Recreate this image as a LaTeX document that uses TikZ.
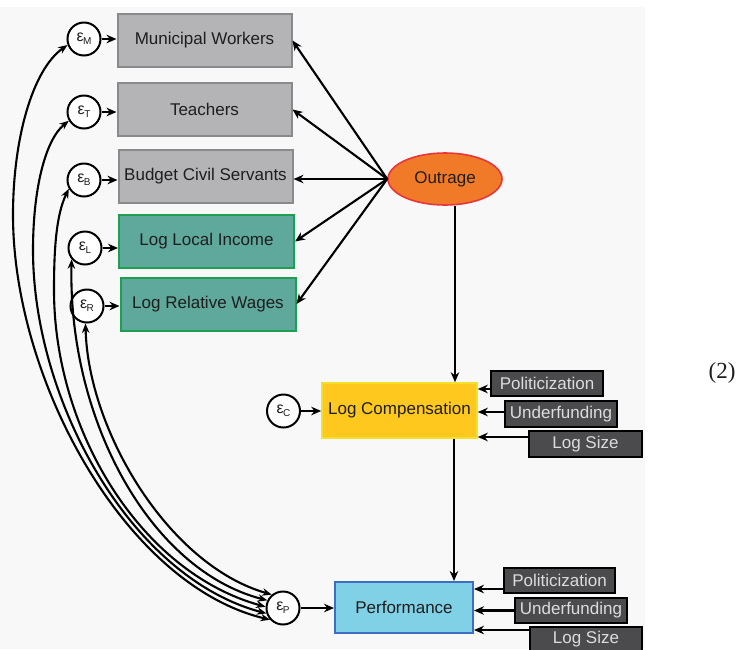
\documentclass[tikz,border=0pt]{standalone}
\usepackage{fontspec}
\setmainfont{Liberation Sans}
\newfontfamily\eqfont{Liberation Serif}
\usetikzlibrary{arrows.meta,shapes.geometric}
\definecolor{panelbg}{HTML}{F8F8F8}
\definecolor{boxgray}{HTML}{B4B4B7}
\definecolor{boxgrayline}{HTML}{8A8A8C}
\definecolor{tealfill}{HTML}{5FA89C}
\definecolor{tealline}{HTML}{1E9E50}
\definecolor{outfill}{HTML}{F07A28}
\definecolor{outline}{HTML}{E8363A}
\definecolor{compfill}{HTML}{FFC81E}
\definecolor{compline}{HTML}{F3E02A}
\definecolor{perffill}{HTML}{80D0E6}
\definecolor{perfline}{HTML}{3D6EC4}
\definecolor{darkfill}{HTML}{4B4B4D}
\definecolor{darktext}{HTML}{DCDCDC}
\definecolor{txt}{HTML}{1E1E1E}
\newcommand\epsl[1]{{\fontsize{16}{16}\selectfont ε}\kern-0.5pt\raisebox{-3pt}{\fontsize{10}{10}\selectfont #1}}
\begin{document}
\begin{tikzpicture}[x=1pt,y=-1pt,
  box/.style={draw, line width=2pt, minimum height=53pt, inner sep=0pt,
    font=\fontsize{17}{17}\selectfont, text=txt},
  graybox/.style={box, fill=boxgray, draw=boxgrayline, minimum width=174pt},
  tealbox/.style={box, fill=tealfill, draw=tealline, minimum width=175pt},
  errc/.style={circle, draw, line width=2pt, fill=white, minimum size=33pt, inner sep=0pt, text=txt},
  darkbox/.style={draw=black, line width=2pt, fill=darkfill, text=darktext,
    minimum width=112pt, minimum height=25pt, inner sep=0pt, font=\fontsize{17}{17}\selectfont},
  arr/.style={line width=2.1pt, -{Stealth[length=10pt,width=8.5pt]}},
  biarr/.style={line width=2.1pt, {Stealth[length=9.5pt,width=7.5pt]}-{Stealth[length=9.5pt,width=7.5pt]}}
]
\useasboundingbox (0,0) rectangle (738,649);
\fill[white] (0,0) rectangle (738,649);
\fill[panelbg] (0,7) rectangle (645,649);

% indicator boxes
\node[graybox] (mw) at (204.5,40.5) {Municipal Workers};
\node[graybox] (te) at (204.5,109.5) {Teachers};
\node[graybox] (bc) at (205.5,176) {Budget Civil Servants};
\node[tealbox] (li) at (206.5,241.5) {Log Local Income};
\node[tealbox] (rw) at (208,304) {Log Relative Wages};

% error terms
\node[errc] (em) at (84,39) {\epsl{M}};
\node[errc] (et) at (84,112) {\epsl{T}};
\node[errc] (eb) at (84,180) {\epsl{B}};
\node[errc] (el) at (85,248) {\epsl{L}};
\node[errc] (er) at (87,306) {\epsl{R}};

\draw[arr] (em.east) -- (em.east -| mw.west);
\draw[arr] (et.east) -- (et.east -| te.west);
\draw[arr] (eb.east) -- (eb.east -| bc.west);
\draw[arr] (el.east) -- (el.east -| li.west);
\draw[arr] (er.east) -- (er.east -| rw.west);

% outrage
\node[ellipse, draw=outline, fill=outfill, line width=1.6pt, minimum width=114pt,
  minimum height=52pt, inner sep=0pt, font=\fontsize{17}{17}\selectfont, text=txt]
  (out) at (445,179) {Outrage};
\draw[arr] (out.west) -- (mw.east);
\draw[arr] (out.west) -- (te.east);
\draw[arr] (out.west) -- (out.west -| bc.east);
\draw[arr] (out.west) -- (li.east);
\draw[arr] (out.west) -- (rw.east);

% log compensation
\node[draw=compline, fill=compfill, line width=1.6pt, minimum width=155pt, minimum height=55pt,
  inner sep=0pt, font=\fontsize{17}{17}\selectfont, text=txt] (comp) at (399.5,410.5) {Log Compensation};
\node[errc] (ec) at (283.5,411) {\epsl{C}};
\draw[arr] (ec.east) -- (ec.east -| comp.west);
\coordinate (v1) at (455,0);
\draw[arr] (out.south -| v1) -- (comp.north -| v1);

\node[darkbox] (pol1) at (547,383.5) {Politicization};
\node[darkbox, minimum height=26pt] (und1) at (561,414) {Underfunding};
\node[darkbox, minimum width=113pt, minimum height=26pt] (ls1) at (585.5,444) {Log Size};
\coordinate (p1) at ([yshift=-5.5pt]pol1.west);
\coordinate (u1) at ([yshift=2pt]und1.west);
\coordinate (s1) at ([yshift=7pt]ls1.west);
\draw[arr] (p1) -- (p1 -| comp.east);
\draw[arr] (u1) -- (u1 -| comp.east);
\draw[arr] (s1) -- (s1 -| comp.east);

% performance
\node[draw=perfline, fill=perffill, line width=2pt, minimum width=138pt, minimum height=51pt,
  inner sep=0pt, font=\fontsize{17}{17}\selectfont, text=txt] (perf) at (404,607.5) {Performance};
\node[errc] (ep) at (283,608) {\epsl{P}};
\draw[arr] (ep.east) -- (ep.east -| perf.west);
\coordinate (v2) at (454,0);
\draw[arr] (comp.south -| v2) -- (perf.north -| v2);

\node[darkbox, minimum width=111pt] (pol2) at (559.5,580.5) {Politicization};
\node[darkbox] (und2) at (571,610.5) {Underfunding};
\node[darkbox] (ls2) at (586,639.5) {Log Size};
\coordinate (p2) at ([yshift=-8.5pt]pol2.west);
\coordinate (u2) at ([yshift=0pt]und2.west);
\coordinate (s2) at ([yshift=9.5pt]ls2.west);
\draw[arr] (p2) -- (p2 -| perf.east);
\draw[arr] (u2) -- (u2 -| perf.east);
\draw[arr] (s2) -- (s2 -| perf.east);

% covariance curves
\draw[biarr] (em.200) .. controls (32,70) and (13,140) .. (13,215)
  .. controls (13,380) and (125,585) .. (ep.222);
\draw[biarr] (et.210) .. controls (45,140) and (33,190) .. (33,250)
  .. controls (33,400) and (130,577) .. (ep.198);
\draw[biarr] (eb.210) .. controls (56,215) and (54,250) .. (54,290)
  .. controls (54,430) and (140,572) .. (ep.176);
\draw[biarr] (el.220) .. controls (68,420) and (150,570) .. (ep.154);
\draw[biarr] (er.265) .. controls (88,430) and (168,565) .. (ep.130);

\node[font=\eqfont\fontsize{23}{23}\selectfont, text=txt] (eqn) at (722,373) {(2)};
\end{tikzpicture}
\end{document}
